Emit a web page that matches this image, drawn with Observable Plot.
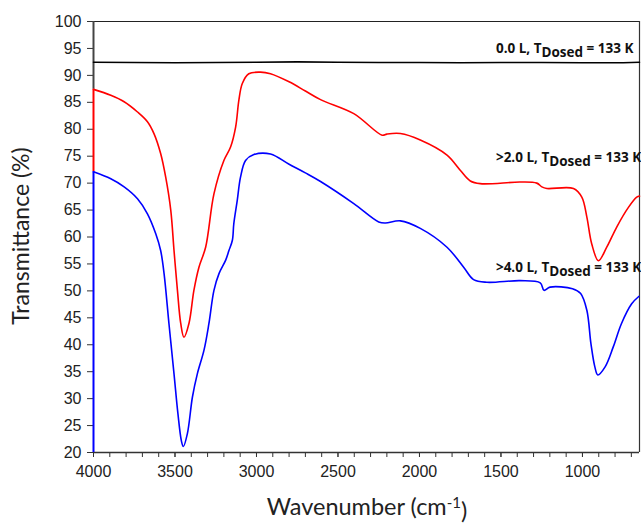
<!DOCTYPE html>
<html>
<head>
<meta charset="utf-8">
<script src="https://cdn.jsdelivr.net/npm/d3@7"></script>
<script src="https://cdn.jsdelivr.net/npm/@observablehq/plot@0.6"></script>
<style>
  html, body { margin: 0; padding: 0; background: #fff; }
  #chart svg { display: block; }
</style>
</head>
<body>
<div id="chart"></div>
<script>
// ---- Data ----
const xTicksMajor = [4000, 3500, 3000, 2500, 2000, 1500, 1000];
const xTicksMinor = d3.range(700, 4001, 100);
const yTicks = [20, 25, 30, 35, 40, 45, 50, 55, 60, 65, 70, 75, 80, 85, 90, 95, 100];

const blackX = [4000, 3750, 3500, 3250, 3000, 2750, 2500, 2250, 2000, 1750, 1500, 1250, 1000, 750, 650];
const blackY = [92.45, 92.4, 92.35, 92.4, 92.45, 92.5, 92.45, 92.4, 92.4, 92.35, 92.4, 92.4, 92.35, 92.35, 92.45];

const redX = [4000, 3894, 3812, 3730, 3669, 3629, 3588, 3557, 3526, 3506, 3485, 3465, 3445, 3414, 3384, 3353, 3312,
  3261, 3200, 3159, 3128, 3108, 3087, 3047, 2975, 2914, 2800, 2700, 2607, 2403, 2229, 2200, 2117, 1995, 1831, 1750,
  1688, 1627, 1382, 1280, 1249, 1218, 1055, 1004, 973, 943, 902, 851, 789, 718, 667, 650];
const redY = [87.4, 86.3, 85.1, 83.2, 81.4, 79.2, 75.5, 71.1, 65, 57.5, 50.1, 44, 41.4, 44, 50.1, 54.4, 58.1,
  68, 74.2, 76.7, 80.4, 85.4, 88.5, 90.3, 90.6, 90.3, 88.8, 87.1, 85.5, 82.9, 78.9, 79.1, 79.2, 78, 75.2, 72.4,
  70.4, 69.9, 70.2, 70, 69.3, 69, 69, 67.4, 63.7, 58.7, 55.6, 58.1, 61.9, 65.5, 67.4, 67.6];

const blueX = [4000, 3894, 3812, 3730, 3669, 3618, 3588, 3567, 3537, 3506, 3482, 3461, 3449, 3424, 3393, 3363, 3322,
  3292, 3261, 3230, 3189, 3169, 3148, 3139, 3118, 3098, 3067, 3016, 2914, 2800, 2700, 2607, 2403, 2250, 2209, 2117,
  1995, 1831, 1729, 1668, 1586, 1382, 1259, 1236, 1199, 1061, 1011, 973, 948, 924, 906, 861, 811, 761, 698, 653];
const blueY = [72.1, 70.8, 69.3, 67.1, 64.3, 60.6, 57.5, 53.2, 43.9, 34.6, 27.2, 22.2, 21.1, 23.5, 30.3, 34.6, 39,
  43.9, 50.1, 53.2, 55.7, 57.5, 59.4, 62.5, 66.8, 71.1, 74.2, 75.3, 75.4, 73.5, 71.9, 70.3, 66.2, 62.8, 62.6, 63,
  61.6, 58.1, 54.4, 52.1, 51.6, 51.9, 51.5, 50.1, 50.7, 50.4, 49.5, 46.4, 40.2, 35.9, 34.4, 35.9, 39.6, 43.9, 47.6, 49];

const labelNames = ["0.0 L", ">2.0 L", ">4.0 L"];
const labelX = [1531, 1531, 1531];
const labelY = [94.1, 73.9, 53.5];

const yTitle = "Transmittance (%)";
const xTitle = ["Wavenumber (cm", "-1", ")"];

// ---- Build tables ----
const zipXY = (xs, ys) => xs.map((x, i) => ({x, y: ys[i]}));
const black = zipXY(blackX, blackY);
const red = zipXY(redX, redY);
const blue = zipXY(blueX, blueY);
const labels = labelNames.map((n, i) => ({x: labelX[i], y: labelY[i], text: `${n}, T|Dosed| = 133 K`}));

const tickFont = "'Liberation Sans', Arial, sans-serif";
const titleFont = "Lato, 'Open Sans', sans-serif";
const annoFont = "'Open Sans', Lato, sans-serif";

const plot = Plot.plot({
  width: 641,
  height: 523,
  marginLeft: 93,
  marginRight: 2,
  marginTop: 21,
  marginBottom: 71,
  style: {fontFamily: tickFont, background: "#fff", overflow: "visible"},
  x: {domain: [4000, 650]},
  y: {domain: [20, 100]},
  marks: [
    Plot.axisX({ticks: xTicksMinor, tickSize: 5, tickFormat: () => "", stroke: "#333", label: null}),
    Plot.axisX({ticks: xTicksMajor, tickSize: 5, tickPadding: 8, fontSize: 16, fill: "#222", stroke: "#333", tickFormat: d => String(d), label: null}),
    Plot.axisY({ticks: yTicks, tickSize: 6, tickPadding: 6, fontSize: 16, fill: "#222", stroke: "#333", tickFormat: d => String(d), label: null}),
    Plot.ruleY([100], {stroke: "#222", strokeWidth: 1.2}),
    Plot.ruleX([650], {stroke: "#333", strokeWidth: 1.2}),
    Plot.ruleY([20], {stroke: "#333", strokeWidth: 1.5}),
    Plot.ruleX([4000], {y1: 100, y2: 87.4, stroke: "#444", strokeWidth: 2}),
    Plot.ruleX([4000], {y1: 87.4, y2: 72.1, stroke: "#ff0000", strokeWidth: 2}),
    Plot.ruleX([4000], {y1: 72.1, y2: 20, stroke: "#0000ff", strokeWidth: 2}),
    Plot.line(black, {x: "x", y: "y", stroke: "#000", strokeWidth: 1.6}),
    Plot.line(red, {x: "x", y: "y", stroke: "#ff0000", strokeWidth: 1.6, curve: "catmull-rom"}),
    Plot.line(blue, {x: "x", y: "y", stroke: "#0000ff", strokeWidth: 1.6, curve: "catmull-rom"}),
    Plot.text(labels, {x: "x", y: "y", text: "text", textAnchor: "start", lineAnchor: "bottom",
      fontWeight: "bold", fontSize: 13.5, fontFamily: annoFont, fill: "#111", className: "anno"})
  ]
});

document.getElementById("chart").appendChild(plot);

const svg = d3.select(plot);

// Annotation labels with subscript "Dosed"
svg.selectAll(".anno text").each(function() {
  const parts = this.textContent.split("|");
  const t = d3.select(this);
  t.text(null);
  t.append("tspan").text(parts[0]);
  t.append("tspan").attr("dy", "0.3em").text(parts[1]);
  t.append("tspan").attr("dy", "-0.3em").text(parts[2]);
});

// Axis titles
svg.append("text")
  .attr("transform", "translate(29,236) rotate(-90)")
  .attr("text-anchor", "middle")
  .attr("font-family", titleFont)
  .attr("font-size", 23)
  .attr("fill", "#222")
  .text(yTitle);

const xt = svg.append("text")
  .attr("x", 367)
  .attr("y", 515)
  .attr("text-anchor", "middle")
  .attr("font-family", titleFont)
  .attr("font-size", 23.5)
  .attr("fill", "#222");
xt.append("tspan").text(xTitle[0]);
xt.append("tspan").attr("dy", "-0.45em").attr("font-size", 15).text(xTitle[1]);
xt.append("tspan").attr("dy", "0.45em").text(xTitle[2]);
</script>
</body>
</html>
